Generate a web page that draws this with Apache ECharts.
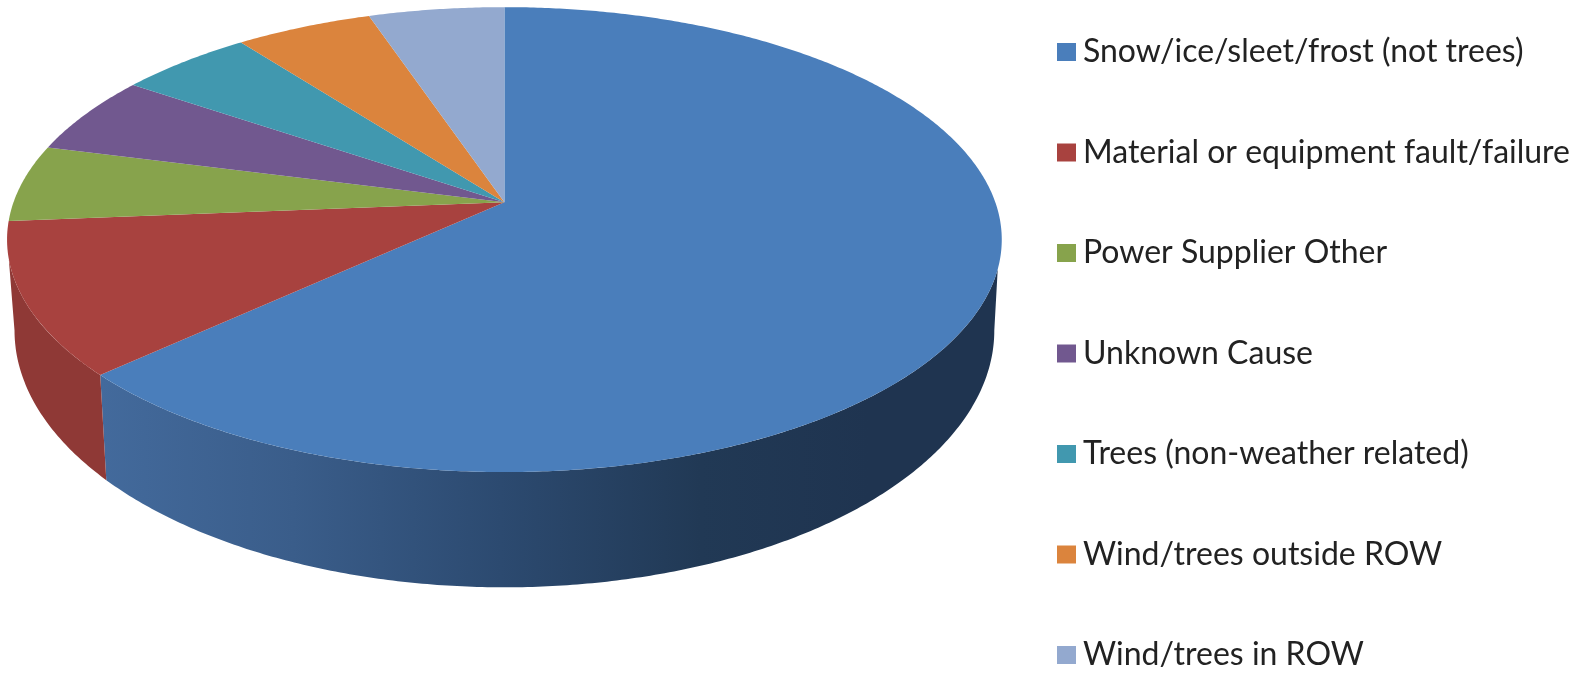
<!DOCTYPE html>
<html><head><meta charset="utf-8">
<style>html,body{margin:0;padding:0;background:#fff}#c{width:1585px;height:673px}</style>
<script src="https://cdn.jsdelivr.net/npm/echarts@6/dist/echarts.min.js"></script>
</head><body><div id="c"></div>
<script>
const sliceNames = ['Snow/ice/sleet/frost (not trees)','Material or equipment fault/failure','Power Supplier Other','Unknown Cause','Trees (non-weather related)','Wind/trees outside ROW','Wind/trees in ROW'];
const sliceValues = [63.1, 10.6, 5.35, 5.5, 5.1, 5.2, 5.15];
const topColors = ['#4a7ebb','#a8423f','#87a34c','#71588f','#4198af','#db843d','#93a9cf'];

// Projection of the tilted disc (perspective ellipse)
const S = 1585/1568;
const CX = 499*S, CY = 200*S, A = 485.6*S, B = 224*S, K = 0.161;
const WALL_SX = 0.985, WALL_SY = 1.105, WALL_DY = 86*S;
// silhouette tangent angles of the side wall on the upper and lower rims
const TOP_FROM = 106.4, LOW_FROM = 99.3, TOP_TO = 256, LOW_TO = 260.7;

function upper(deg){
  const t = deg*Math.PI/180, w = 1 + K*Math.cos(t);
  return [A*Math.sin(t)/w, -B*Math.cos(t)/w];
}
function topPt(deg){ const p = upper(deg); return [CX+p[0], CY+p[1]]; }
function lowPt(deg){ const p = upper(deg); return [CX+p[0]*WALL_SX, CY+p[1]*WALL_SY+WALL_DY]; }
function arc(fn,a,b){ const n=Math.max(2,Math.ceil(Math.abs(b-a)*2)), r=[]; for(let i=0;i<=n;i++) r.push(fn(a+(b-a)*i/n)); return r; }

const wallFills = [
  new echarts.graphic.LinearGradient(100*S,0,860*S,0,[
    {offset:0,color:'#436a9c'},{offset:0.25,color:'#3a5d8a'},{offset:0.52,color:'#2c4a70'},{offset:0.78,color:'#213955'},{offset:1,color:'#1f3450'}],true),
  '#8f3936'
];

const total = sliceValues.reduce((s,v)=>s+v,0);
let running = 0;
const series = sliceNames.map((name,i)=>{
  const start = running; running += sliceValues[i];
  return {
    type:'custom', name, coordinateSystem:'none', silent:true,
    itemStyle:{color:topColors[i]},
    data:[[sliceValues[i], start]],
    renderItem(params, api){
      const a0 = api.value(1)/total*360, a1 = (api.value(1)+api.value(0))/total*360;
      const children = [];
      if (a0 < TOP_TO && a1 > TOP_FROM) {
        const upperRim = arc(topPt, Math.max(a0,TOP_FROM), Math.min(a1,TOP_TO));
        const lowerRim = arc(lowPt, Math.max(a0,LOW_FROM), Math.min(a1,LOW_TO));
        children.push({type:'polygon', shape:{points:upperRim.concat(lowerRim.reverse())},
          style:{fill:wallFills[i]||topColors[i]}});
      }
      children.push({type:'polygon', shape:{points:[[CX,CY]].concat(arc(topPt,a0,a1))}, style:{fill:topColors[i]}});
      return {type:'group', children};
    }
  };
});

const chart = echarts.init(document.getElementById('c'),null,{renderer:'canvas'});
chart.setOption({
  animation:false, backgroundColor:'#fff',
  legend:{
    orient:'vertical', left:1057, top:34, padding:0, itemWidth:19, itemHeight:18, itemGap:64.5,
    selectedMode:false, icon:'rect', data:sliceNames,
    textStyle:{fontFamily:'Lato', fontSize:32, color:'#222', lineHeight:34, padding:[2,0,0,2]}
  },
  series
});
</script></body></html>
